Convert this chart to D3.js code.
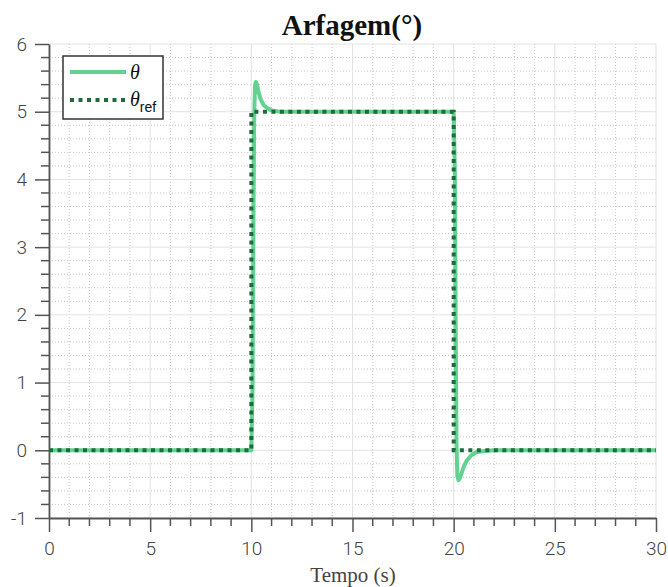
<!DOCTYPE html>
<html>
<head>
<meta charset="utf-8">
<script src="https://cdn.jsdelivr.net/npm/d3@7"></script>
<style>
  body { margin: 0; background: #fff; }
  svg { display: block; }
</style>
</head>
<body>
<svg id="chart"></svg>
<script>
// data
const tTheta = [0, 10.0, 10.06, 10.1, 10.14, 10.18, 10.22, 10.28, 10.35, 10.45, 10.6, 10.8, 11.0, 11.4, 12.0, 20.0, 20.06, 20.1, 20.14, 20.18, 20.24, 20.3, 20.4, 20.5, 20.65, 20.85, 21.1, 21.5, 22.0, 30]
const theta  = [0, 0, 0.9, 3.2, 4.9, 5.38, 5.44, 5.4, 5.3, 5.19, 5.1, 5.05, 5.02, 5.0, 5.0, 5.0, 4.1, 1.8, 0.1, -0.38, -0.44, -0.42, -0.33, -0.24, -0.15, -0.08, -0.03, -0.01, 0, 0]
const tRef   = [0, 10, 10, 20, 20, 30]
const thetaRef = [0, 0, 5, 5, 0, 0]

const xTicks = [0, 5, 10, 15, 20, 25, 30]
const yTicks = [-1, 0, 1, 2, 3, 4, 5, 6]

const w = 668
const h = 587
const padLeft = 49, padRight = 656, padTop = 44, padBottom = 518

const svg = d3.select("#chart").attr("width", w).attr("height", h)

const xScale = d3.scaleLinear().domain([0, 30]).range([padLeft, padRight])
const yScale = d3.scaleLinear().domain([-1, 6]).range([padBottom, padTop])

const xMinor = d3.range(0, 30.001, 1).filter(v => v % 5 !== 0)
const yMinor = d3.range(-1, 6.001, 0.2).filter(v => Math.abs(v - Math.round(v)) > 0.01)

// minor grid
const grid = svg.append("g")
grid.selectAll(".mx").data(xMinor).enter().append("line")
    .attr("x1", d => xScale(d)).attr("x2", d => xScale(d))
    .attr("y1", padTop).attr("y2", padBottom)
    .attr("stroke", "#c8c8c8").attr("stroke-width", 1).attr("stroke-dasharray", "1,2")
grid.selectAll(".my").data(yMinor).enter().append("line")
    .attr("y1", d => yScale(d)).attr("y2", d => yScale(d))
    .attr("x1", padLeft).attr("x2", padRight)
    .attr("stroke", "#c8c8c8").attr("stroke-width", 1).attr("stroke-dasharray", "1,2")

// major grid
grid.selectAll(".gx").data(xTicks).enter().append("line")
    .attr("x1", d => xScale(d)).attr("x2", d => xScale(d))
    .attr("y1", padTop).attr("y2", padBottom)
    .attr("stroke", "#e2e2e2").attr("stroke-width", 1)
grid.selectAll(".gy").data(yTicks).enter().append("line")
    .attr("y1", d => yScale(d)).attr("y2", d => yScale(d))
    .attr("x1", padLeft).attr("x2", padRight)
    .attr("stroke", "#e2e2e2").attr("stroke-width", 1)

// axes
const xAxis = svg.append("g")
    .attr("transform", `translate(0, ${padBottom})`)
    .call(d3.axisBottom(xScale).tickValues(xTicks).tickFormat(d => String(d))
        .tickSize(14).tickSizeOuter(0).tickPadding(10))
xAxis.append("g").selectAll("line").data(xMinor).enter().append("line")
    .attr("x1", d => xScale(d)).attr("x2", d => xScale(d))
    .attr("y1", 0).attr("y2", 8).attr("stroke", "#555").attr("stroke-width", 1.5)

const yAxis = svg.append("g")
    .attr("transform", `translate(${padLeft}, 0)`)
    .call(d3.axisLeft(yScale).tickValues(yTicks).tickFormat(d => String(d))
        .tickSize(14).tickSizeOuter(0).tickPadding(8))
yAxis.append("g").selectAll("line").data(yMinor).enter().append("line")
    .attr("y1", d => yScale(d)).attr("y2", d => yScale(d))
    .attr("x1", 0).attr("x2", -8).attr("stroke", "#555").attr("stroke-width", 1.5)

svg.selectAll(".domain").attr("stroke", "#555").attr("stroke-width", 1.8)
svg.selectAll(".tick line").attr("stroke", "#555").attr("stroke-width", 1.5)
svg.selectAll(".tick text")
    .attr("font-family", "Roboto, Liberation Sans, sans-serif")
    .attr("font-weight", 300)
    .attr("font-size", 19)
    .attr("fill", "#444")

// lines
const line = d3.line().x(d => xScale(d[0])).y(d => yScale(d[1]))

svg.append("path")
    .datum(tTheta.map((t, i) => [t, theta[i]]))
    .attr("d", line)
    .attr("fill", "none")
    .attr("stroke", "#62d291")
    .attr("stroke-width", 4)
    .attr("stroke-linejoin", "round")

svg.append("path")
    .datum(tRef.map((t, i) => [t, thetaRef[i]]))
    .attr("d", line)
    .attr("fill", "none")
    .attr("stroke", "#1f6b3d")
    .attr("stroke-width", 4)
    .attr("stroke-dasharray", "4,4.5")

// title
svg.append("text")
    .attr("x", 352).attr("y", 35)
    .attr("text-anchor", "middle")
    .attr("font-family", "Liberation Serif, serif")
    .attr("font-weight", "bold")
    .attr("font-size", 29)
    .attr("fill", "#111")
    .text("Arfagem(°)")

// x label
svg.append("text")
    .attr("x", 353).attr("y", 582)
    .attr("text-anchor", "middle")
    .attr("font-family", "Liberation Serif, serif")
    .attr("font-size", 21)
    .attr("fill", "#444")
    .text("Tempo (s)")

// legend
const legend = svg.append("g").attr("transform", "translate(63, 56)")
legend.append("rect")
    .attr("width", 100).attr("height", 63)
    .attr("fill", "#fff").attr("stroke", "#333").attr("stroke-width", 1.5)
legend.append("line")
    .attr("x1", 7).attr("x2", 63).attr("y1", 16).attr("y2", 16)
    .attr("stroke", "#62d291").attr("stroke-width", 4)
legend.append("line")
    .attr("x1", 7).attr("x2", 64).attr("y1", 44).attr("y2", 44)
    .attr("stroke", "#1f6b3d").attr("stroke-width", 4).attr("stroke-dasharray", "4,4.5")
legend.append("text")
    .attr("x", 67).attr("y", 23)
    .attr("font-family", "Liberation Serif, serif")
    .attr("font-style", "italic")
    .attr("font-size", 20)
    .attr("fill", "#111")
    .text("θ")
const refLabel = legend.append("text")
    .attr("x", 67).attr("y", 50)
    .attr("font-family", "Liberation Serif, serif")
    .attr("font-style", "italic")
    .attr("font-size", 20)
    .attr("fill", "#111")
refLabel.append("tspan").text("θ")
refLabel.append("tspan")
    .attr("dy", 6)
    .attr("font-style", "normal")
    .attr("font-family", "Liberation Sans, Arial, sans-serif")
    .attr("font-size", 14)
    .text("ref")
</script>
</body>
</html>
